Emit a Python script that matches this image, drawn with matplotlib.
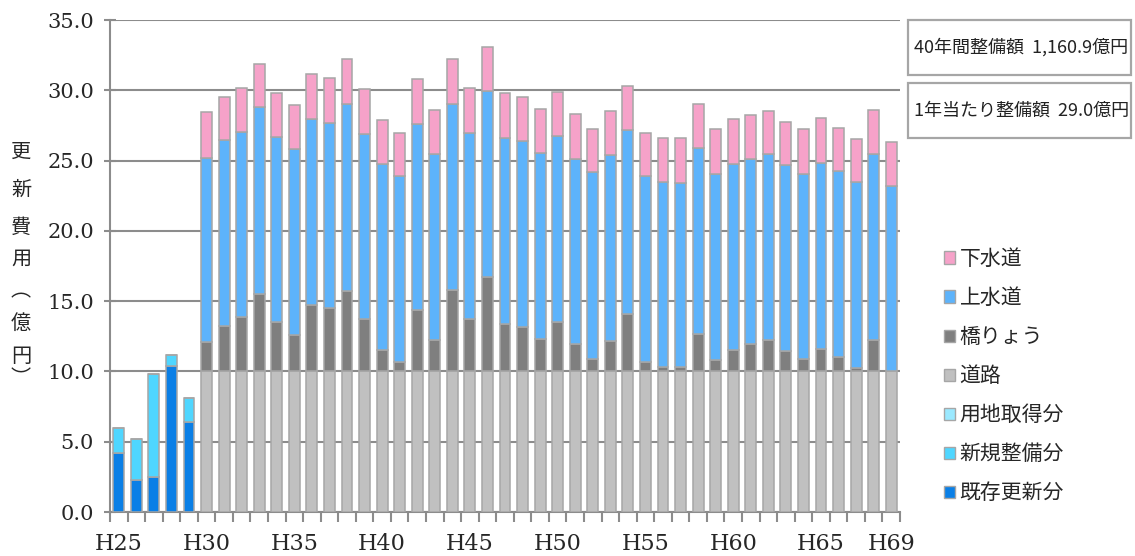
import matplotlib
matplotlib.use("Agg")
import matplotlib.pyplot as plt
from matplotlib.patches import Patch, Rectangle
import numpy as np

# ---------------- data ----------------
categories = ["H25", "H26", "H27", "H28", "H29",
              "H30", "H31", "H32", "H33", "H34", "H35", "H36", "H37", "H38", "H39",
              "H40", "H41", "H42", "H43", "H44", "H45", "H46", "H47", "H48", "H49",
              "H50", "H51", "H52", "H53", "H54", "H55", "H56", "H57", "H58", "H59",
              "H60", "H61", "H62", "H63", "H64", "H65", "H66", "H67", "H68", "H69"]
tick_labels = ["H25", "H30", "H35", "H40", "H45", "H50", "H55", "H60", "H65", "H69"]

# H25-H29 (actual spending)
early_cats = ["H25", "H26", "H27", "H28", "H29"]
kizon = [4.2, 2.3, 2.5, 10.4, 6.4]      # 既存更新分
shinki = [1.8, 2.9, 7.3, 0.8, 1.7]      # 新規整備分
youchi = [0.0, 0.0, 0.0, 0.0, 0.0]      # 用地取得分

# H30-H69 (projected renewal cost)
late_cats = categories[5:]
douro = [10.0, 10.0, 10.0, 10.0, 10.0, 10.0, 10.0, 10.0, 10.0, 10.0,
         10.0, 10.0, 10.0, 10.0, 10.0, 10.0, 10.0, 10.0, 10.0, 10.0,
         10.0, 10.0, 10.0, 10.0, 10.0, 10.0, 10.0, 10.0, 10.0, 10.0,
         10.0, 10.0, 10.0, 10.0, 10.0, 10.0, 10.0, 10.0, 10.0, 10.0]   # 道路
kyouryou = [2.09, 3.22, 3.85, 5.50, 3.50, 2.59, 4.73, 4.53, 5.73, 3.72,
            1.54, 0.66, 4.38, 2.24, 5.76, 3.72, 6.73, 3.37, 3.17, 2.34,
            3.50, 1.92, 0.91, 2.17, 4.05, 0.66, 0.29, 0.34, 2.67, 0.84,
            1.54, 1.92, 2.22, 1.47, 0.91, 1.62, 1.04, 0.24, 2.24, 0.00]  # 橋りょう
jousui = [13.12, 13.25, 13.19, 13.28, 13.17, 13.25, 13.24, 13.14, 13.30, 13.20,
          13.25, 13.25, 13.22, 13.22, 13.27, 13.25, 13.25, 13.27, 13.22, 13.17,
          13.22, 13.22, 13.25, 13.24, 13.12, 13.25, 13.17, 13.07, 13.25, 13.24,
          13.25, 13.22, 13.24, 13.19, 13.12, 13.22, 13.22, 13.22, 13.22, 13.21]  # 上水道
gesui = [3.21, 3.08, 3.14, 3.08, 3.11, 3.09, 3.19, 3.19, 3.21, 3.19,
         3.11, 3.06, 3.18, 3.14, 3.21, 3.21, 3.09, 3.14, 3.16, 3.17,
         3.13, 3.16, 3.11, 3.14, 3.14, 3.06, 3.18, 3.23, 3.11, 3.19,
         3.18, 3.08, 3.09, 3.11, 3.24, 3.21, 3.09, 3.08, 3.14, 3.13]  # 下水道

total_text = "40年間整備額  1,160.9億円"
avg_text = "1年当たり整備額  29.0億円"
ylabel_chars = ["更", "新", "費", "用", "︵", "億", "円", "︶"]

# ---------------- style ----------------
C_KIZON = "#0a7fe6"
C_SHINKI = "#4fd6ff"
C_YOUCHI = "#9be9ff"
C_DOURO = "#c0c0c0"
C_KYOU = "#7f7f7f"
C_JOU = "#5db3fb"
C_GE = "#f6a2c9"
EDGE = "#a6a6a6"
GRID = "#8c8c8c"
TXT = "#262626"

plt.rcParams["font.family"] = ["Noto Sans CJK JP", "DejaVu Sans"]

fig = plt.figure(figsize=(11.35, 5.56), dpi=100)
ax = fig.add_axes([110 / 1135, 44 / 556, 790 / 1135, 492 / 556])

idx = {c: i for i, c in enumerate(categories)}
xe = np.array([idx[c] for c in early_cats])
xl = np.array([idx[c] for c in late_cats])
w = 0.62
kw = dict(width=w, edgecolor=EDGE, linewidth=1.1, zorder=3)

b = np.zeros(len(xe))
for vals, col in [(kizon, C_KIZON), (shinki, C_SHINKI), (youchi, C_YOUCHI)]:
    v = np.array(vals)
    ax.bar(xe, v, bottom=b, color=col, **kw)
    b = b + v

b = np.zeros(len(xl))
for vals, col in [(douro, C_DOURO), (kyouryou, C_KYOU), (jousui, C_JOU), (gesui, C_GE)]:
    v = np.array(vals)
    ax.bar(xl, v, bottom=b, color=col, **kw)
    b = b + v

ax.set_xlim(-0.5, len(categories) - 0.5)
ax.set_ylim(0, 35)
ax.set_yticks(np.arange(0, 35.1, 5))
ax.set_yticklabels([f"{v:.1f}" for v in np.arange(0, 35.1, 5)],
                   family="DejaVu Serif", fontsize=15, color=TXT)
ax.yaxis.grid(True, color=GRID, linewidth=1.5, zorder=0)
ax.set_axisbelow(True)

ax.set_xticks([idx[t] for t in tick_labels])
ax.set_xticklabels(tick_labels, family="DejaVu Serif", fontsize=16, color=TXT)
ax.set_xticks(np.arange(-0.5, len(categories), 1), minor=True)
ax.tick_params(axis="x", which="major", length=0, pad=15)
ax.tick_params(axis="x", which="minor", length=7, width=1.5, color=GRID, direction="out")
ax.tick_params(axis="y", length=9, width=1.5, color=GRID, direction="inout", pad=7)

for s in ["top", "right"]:
    ax.spines[s].set_visible(False)
for s in ["left", "bottom"]:
    ax.spines[s].set_color(GRID)
    ax.spines[s].set_linewidth(1.5)

# vertical y label
ys = [152, 190, 227, 259, 291, 323, 357, 379]
for ch, yp in zip(ylabel_chars, ys):
    fig.text(21 / 1135, 1 - yp / 556, ch, ha="center", va="center",
             fontsize=14.5, color=TXT, family=["Noto Sans CJK JP", "DejaVu Sans"])

# summary boxes
for (y0, y1, txt) in [(20, 75, total_text), (83, 138, avg_text)]:
    fig.patches.append(Rectangle((908 / 1135, 1 - y1 / 556), (1131 - 908) / 1135,
                                 (y1 - y0) / 556, transform=fig.transFigure,
                                 facecolor="white", edgecolor="#a6a6a6", linewidth=1.6))
    fig.text(914 / 1135, 1 - ((y0 + y1) / 2) / 556, txt, ha="left", va="center",
             fontsize=13, color="#222222")

# legend
handles = [Patch(facecolor=C_GE, edgecolor=EDGE, label="下水道"),
           Patch(facecolor=C_JOU, edgecolor=EDGE, label="上水道"),
           Patch(facecolor=C_KYOU, edgecolor=EDGE, label="橋りょう"),
           Patch(facecolor=C_DOURO, edgecolor=EDGE, label="道路"),
           Patch(facecolor=C_YOUCHI, edgecolor=EDGE, label="用地取得分"),
           Patch(facecolor=C_SHINKI, edgecolor=EDGE, label="新規整備分"),
           Patch(facecolor=C_KIZON, edgecolor=EDGE, label="既存更新分")]
leg = fig.legend(handles=handles, loc="upper left",
                 bbox_to_anchor=(944 / 1135, 1 - 248 / 556),
                 frameon=False, fontsize=15, handlelength=0.55, handleheight=0.55,
                 handletextpad=0.2, labelspacing=0.82, borderpad=0, borderaxespad=0)
for t in leg.get_texts():
    t.set_color(TXT)

fig.savefig("out.png", dpi=100)
